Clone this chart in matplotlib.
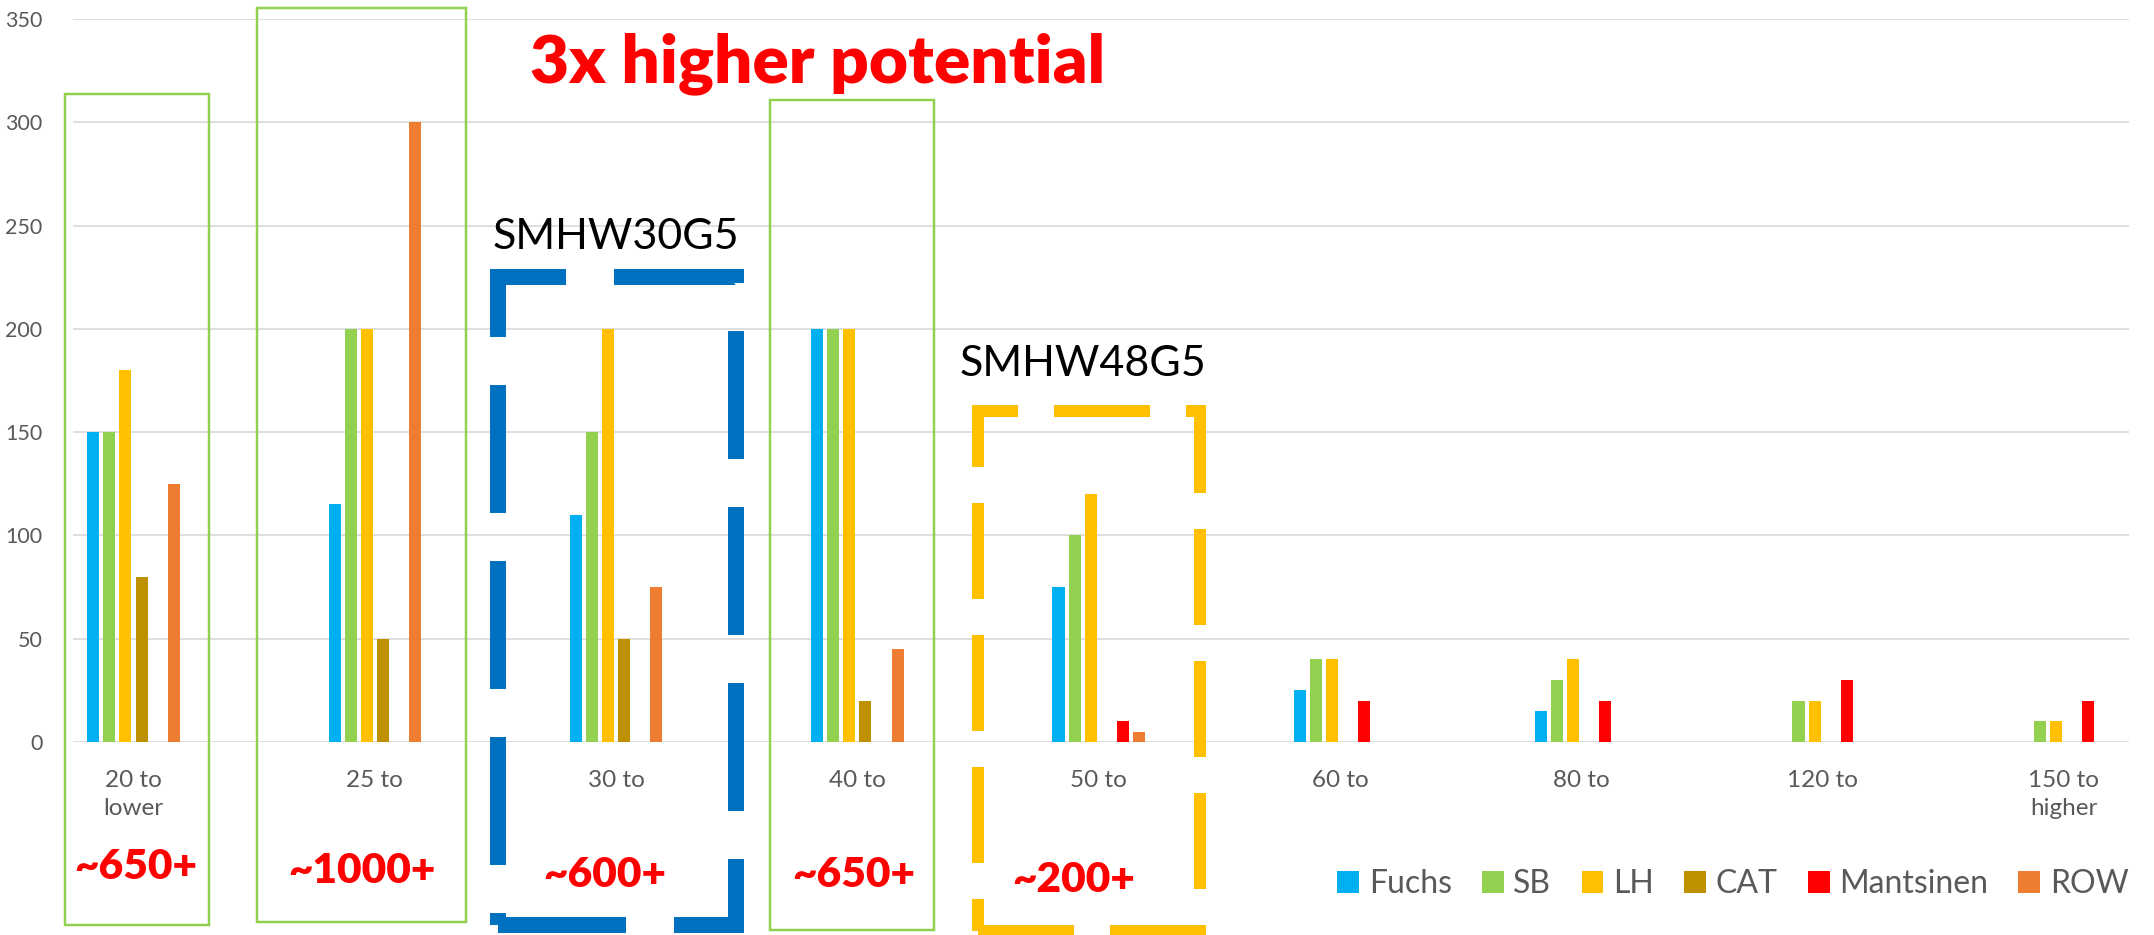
import numpy as np
import matplotlib
matplotlib.use("Agg")
import matplotlib.pyplot as plt
from matplotlib.patches import Rectangle

# ---------------- data ----------------
categories = ["20 to\nlower", "25 to", "30 to", "40 to", "50 to",
              "60 to", "80 to", "120 to", "150 to\nhigher"]
series_names = ["Fuchs", "SB", "LH", "CAT", "Mantsinen", "ROW"]
fuchs     = [150, 115, 110, 200, 75, 25, 15, 0, 0]
sb        = [150, 200, 150, 200, 100, 40, 30, 20, 10]
lh        = [180, 200, 200, 200, 120, 40, 40, 20, 10]
cat       = [80, 50, 50, 20, 0, 0, 0, 0, 0]
mantsinen = [0, 0, 0, 0, 10, 20, 20, 30, 20]
row       = [125, 300, 75, 45, 5, 0, 0, 0, 0]
series_values = [fuchs, sb, lh, cat, mantsinen, row]
colors = ["#00B0F0", "#92D050", "#FFC000", "#BF9000", "#FF0000", "#ED7D31"]
yticks = [0, 50, 100, 150, 200, 250, 300, 350]

potential_labels = ["~650+", "~1000+", "~600+", "~650+", "~200+"]

# ---------------- figure ----------------
W, H = 2154, 935
fig = plt.figure(figsize=(W / 100, H / 100), dpi=100)
plt.rcParams['font.family'] = ['Lato', 'DejaVu Sans']

def fx(px):
    return px / W

def fy(py):
    return 1 - py / H

ax_left, ax_right, ax_top, ax_bottom = 73, 2129, 19, 742
ax = fig.add_axes([fx(ax_left), fy(ax_bottom), (ax_right - ax_left) / W,
                   (ax_bottom - ax_top) / H])

x = np.arange(len(categories))
n = len(series_names)
slot = 0.4 / n
handles = []
for i, (name, vals, c) in enumerate(zip(series_names, series_values, colors)):
    b = ax.bar(x + (i - (n - 1) / 2) * slot, vals, width=slot * 0.75,
               color=c, label=name, linewidth=0, zorder=3)
    handles.append(b)

pitch = 241.3
ax.set_xlim((ax_left - 133.5) / pitch, (ax_right - 133.5) / pitch)
ax.set_ylim(0, 350)
ax.set_yticks(yticks)
ax.set_xticks(x)
ax.set_xticklabels(categories, linespacing=1.45)
ax.tick_params(axis='x', length=0, pad=20, labelsize=17.5, labelcolor="#595959")
ax.tick_params(axis='y', length=0, pad=22, labelsize=15.5, labelcolor="#595959")
ax.yaxis.grid(True, color="#D9D9D9", linewidth=1.2, zorder=0)
ax.set_axisbelow(True)
for s in ax.spines.values():
    s.set_visible(False)

# ---------------- annotation boxes ----------------
def box(x0, y0, x1, y1, color, lw_px, dashed=False):
    lw = lw_px * 0.72
    kw = dict(fill=False, edgecolor=color, linewidth=lw,
              transform=fig.transFigure, joinstyle='miter')
    if dashed:
        kw['linestyle'] = (0, (8, 3))
    r = Rectangle((fx(x0), fy(y1)), (x1 - x0) / W, (y1 - y0) / H, **kw)
    fig.add_artist(r)

green = "#92D050"
box(65, 93.5, 209, 925, green, 2.5)
box(257, 7.5, 466, 922, green, 2.5)
box(770, 100, 934, 930, green, 2.5)
box(498, 277, 736, 925, "#0070C0", 16, dashed=True)
box(977.5, 411, 1200, 931, "#FFC000", 12, dashed=True)

# ---------------- texts ----------------
fig.text(fx(818), fy(82), "3x higher potential", color="#FF0000",
         fontsize=48.5, fontweight='heavy', ha='center', va='baseline')
fig.text(fx(615.5), fy(249), "SMHW30G5", color="black", fontsize=31,
         ha='center', va='baseline')
fig.text(fx(1083), fy(376.5), "SMHW48G5", color="black", fontsize=31,
         ha='center', va='baseline')

pot_x = [136, 362, 605, 854, 1074]
pot_y = [879, 883, 887, 887, 892]
for lab, px, py in zip(potential_labels, pot_x, pot_y):
    fig.text(fx(px), fy(py), lab, color="#FF0000", fontsize=30.5,
             fontweight='heavy', ha='center', va='baseline')

# ---------------- legend ----------------
leg = fig.legend(handles=handles, labels=series_names, loc='center',
                 bbox_to_anchor=(fx(1733), fy(884)), ncol=6, frameon=False,
                 fontsize=23, handlelength=0.68, handleheight=0.68,
                 handletextpad=0.3, columnspacing=0.95, borderpad=0)
for t in leg.get_texts():
    t.set_color("#595959")

fig.savefig("out.png", dpi=100)
